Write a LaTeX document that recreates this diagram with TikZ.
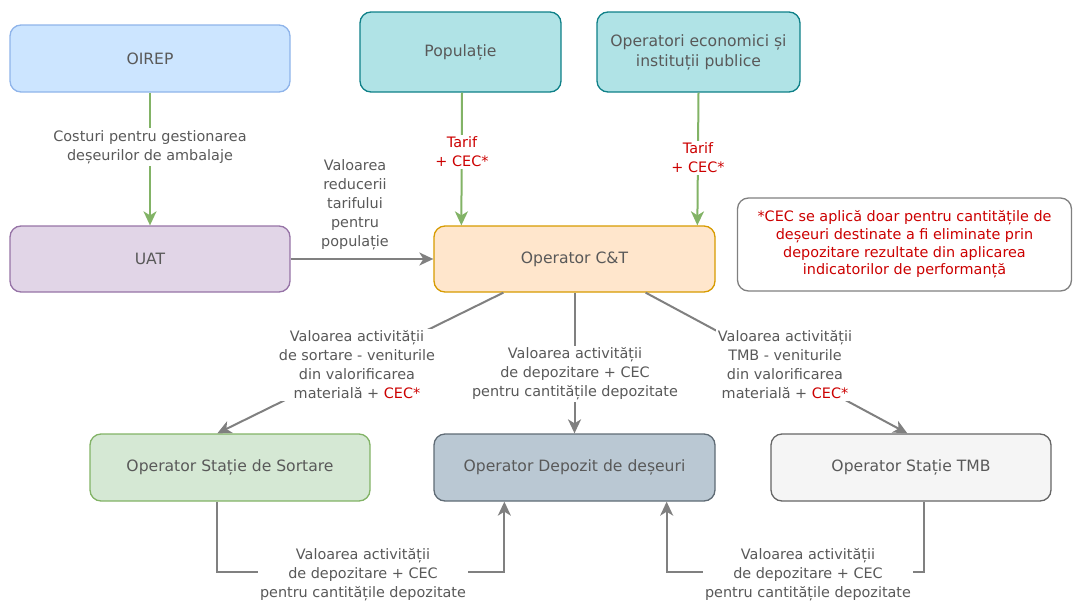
\documentclass[tikz,border=0pt]{standalone}
\usepackage{fontspec}
\setmainfont{DejaVu Sans}
\usetikzlibrary{arrows.meta,calc}
\definecolor{txtgray}{HTML}{595959}
\definecolor{lngray}{HTML}{808080}
\definecolor{lngreen}{HTML}{82B366}
\definecolor{cecred}{HTML}{CC0000}
\definecolor{oirepfill}{HTML}{CCE5FF}
\definecolor{oirepdraw}{HTML}{8FB4EA}
\definecolor{tealfill}{HTML}{B0E3E6}
\definecolor{tealdraw}{HTML}{0E8088}
\definecolor{uatfill}{HTML}{E1D5E7}
\definecolor{uatdraw}{HTML}{9673A6}
\definecolor{ctfill}{HTML}{FFE6CC}
\definecolor{ctdraw}{HTML}{D79B00}
\definecolor{notedraw}{HTML}{808080}
\definecolor{sortfill}{HTML}{D5E8D4}
\definecolor{sortdraw}{HTML}{82B366}
\definecolor{depfill}{HTML}{BAC8D3}
\definecolor{depdraw}{HTML}{5F6B75}
\definecolor{tmbfill}{HTML}{F5F5F5}
\definecolor{tmbdraw}{HTML}{666666}
\tikzset{
  box/.style={draw, rounded corners=11pt, line width=1.3pt, align=center, text=txtgray,
    font=\fontsize{15.6}{20}\selectfont, inner sep=0pt},
  lbl/.style={align=center, text=txtgray, font=\fontsize{14.4}{19}\selectfont, inner sep=2pt},
  lblw/.style={lbl, fill=white},
  redlbl/.style={lbl, text=cecred, fill=white},
  garrow/.style={draw=lngreen, line width=2pt, -{Stealth[length=14pt,width=13pt,inset=4pt]}},
  grayarrow/.style={draw=lngray, line width=2pt, -{Stealth[length=14pt,width=13pt,inset=4pt]}},
}
\begin{document}
\begin{tikzpicture}[x=1pt,y=-1pt]
\useasboundingbox (0,0) rectangle (1074,600);
% boxes
\node[box, fill=oirepfill, draw=oirepdraw, minimum width=280pt, minimum height=67pt] (oirep) at (150,58.5) {OIREP};
\node[box, fill=tealfill, draw=tealdraw, minimum width=201pt, minimum height=80pt] (pop) at (460.5,52) {Populație};
\node[box, fill=tealfill, draw=tealdraw, minimum width=203pt, minimum height=80pt] (opec) at (698.5,52) {Operatori economici și\\instituții publice};
\node[box, fill=uatfill, draw=uatdraw, minimum width=280pt, minimum height=66pt] (uat) at (150,259) {UAT};
\node[box, fill=ctfill, draw=ctdraw, minimum width=281pt, minimum height=66pt] (ct) at (574.5,259) {Operator C\&T};
\node[box, fill=white, draw=notedraw, minimum width=334pt, minimum height=93pt, text=cecred,
  font=\fontsize{14.4}{17.8}\selectfont] (note) at (904.5,244.5)
  {*CEC se aplică doar pentru cantitățile de\\deșeuri destinate a fi eliminate prin\\depozitare rezultate din aplicarea\\indicatorilor de performanță};
\node[box, fill=sortfill, draw=sortdraw, minimum width=280pt, minimum height=67pt] (sort) at (230,467.5) {Operator Stație de Sortare};
\node[box, fill=depfill, draw=depdraw, minimum width=281pt, minimum height=67pt] (dep) at (574.5,467.5) {Operator Depozit de deșeuri};
\node[box, fill=tmbfill, draw=tmbdraw, minimum width=280pt, minimum height=67pt] (tmb) at (911,467.5) {Operator Stație TMB};
% green arrows
\draw[garrow] (oirep.south) -- (uat.north);
\node[lblw] (l1) at (150,147) {Costuri pentru gestionarea\\deșeurilor de ambalaje};
\draw[garrow] ($(pop.south)+(1.5,0)$) -- ($(ct.north west)+(28,0)$);
\node[redlbl] (l2) at (462,152) {Tarif\\+ CEC*};
\draw[garrow] (opec.south) -- ($(ct.north west)+(264,0)$);
\node[redlbl] (l3) at (698,158) {Tarif\\+ CEC*};
% UAT -> C&T
\draw[grayarrow] (uat.east) -- (ct.west);
\node[lbl] (l4) at (355,205) {Valoarea\\reducerii\\tarifului\\pentru\\populație};
% C&T -> lower boxes
\draw[grayarrow] ($(ct.south west)+(70,0)$) -- ($(sort.north west)+(128,0)$);
\node[lblw] (l5) at (357,365) {Valoarea activității\\de sortare - veniturile\\din valorificarea\\materială + \textcolor{cecred}{CEC*}};
\draw[grayarrow] (ct.south) -- (dep.north);
\node[lblw] (l6) at (575,374) {Valoarea activității\\de depozitare + CEC\\pentru cantitățile depozitate};
\draw[grayarrow] ($(ct.south east)+(-70,0)$) -- ($(tmb.north west)+(137,0)$);
\node[lblw] (l7) at (785,365) {Valoarea activității\\TMB - veniturile\\din valorificarea\\materială + \textcolor{cecred}{CEC*}};
% bottom connectors
\coordinate (s1) at ($(sort.south west)+(128,0)$);
\coordinate (d1) at ($(dep.south west)+(71,0)$);
\draw[grayarrow] (s1) -- (s1 |- 0,572) -- (d1 |- 0,572) -- (d1);
\node[lblw] (l8) at (363,575) {Valoarea activității\\de depozitare + CEC\\pentru cantitățile depozitate};
\coordinate (t1) at ($(tmb.south west)+(154,0)$);
\coordinate (d2) at ($(dep.south east)+(-49,0)$);
\draw[grayarrow] (t1) -- (t1 |- 0,572) -- (d2 |- 0,572) -- (d2);
\node[lblw] (l9) at (808,575) {Valoarea activității\\de depozitare + CEC\\pentru cantitățile depozitate};
\end{tikzpicture}
\end{document}
